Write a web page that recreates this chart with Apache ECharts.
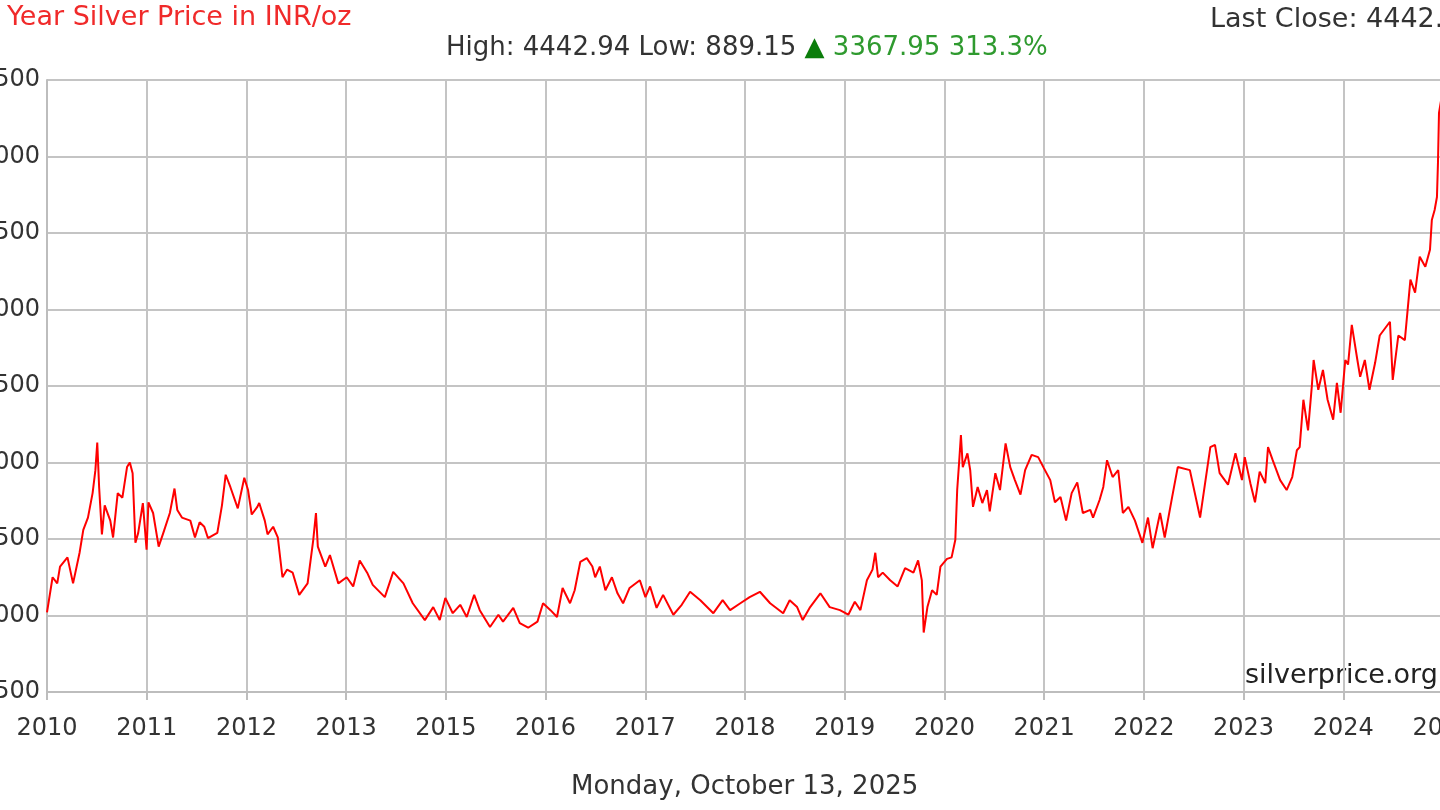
<!DOCTYPE html>
<html>
<head>
<meta charset="utf-8">
<script src="https://cdn.jsdelivr.net/npm/echarts@6/dist/echarts.min.js"></script>
<style>
  html, body { margin: 0; padding: 0; background: #fff; }
  #chart { width: 1440px; height: 810px; }
</style>
</head>
<body>
<div id="chart"></div>
<script>
// decimal year of each reading
const dates = [
  2010.78,2010.84,2010.89,2010.92,2011.00,2011.06,2011.13,2011.17,2011.22,2011.27,2011.30,2011.32,2011.34,2011.37,2011.40,2011.46,2011.49,2011.54,2011.59,2011.64,
  2011.67,2011.70,2011.73,2011.76,2011.81,2011.85,2011.87,2011.92,2011.98,2012.03,2012.10,2012.15,2012.18,2012.23,2012.32,2012.37,2012.42,2012.47,2012.51,2012.61,
  2012.66,2012.70,2012.75,2012.83,2012.90,2012.94,2012.98,2013.04,2013.06,2013.12,2013.15,2013.21,2013.26,2013.31,2013.36,2013.42,2013.49,2013.58,2013.64,2013.67,
  2013.69,2013.77,2013.82,2013.91,2014.00,2014.07,2014.14,2014.22,2014.28,2014.41,2014.50,2014.61,2014.71,2014.84,2014.93,2015.00,2015.06,2015.14,2015.22,2015.29,
  2015.37,2015.43,2015.54,2015.63,2015.68,2015.76,2015.79,2015.86,2015.95,2016.05,2016.11,2016.19,2016.26,2016.32,2016.40,2016.45,2016.51,2016.58,2016.64,2016.67,
  2016.72,2016.78,2016.85,2016.91,2016.97,2017.04,2017.15,2017.21,2017.26,2017.33,2017.40,2017.51,2017.60,2017.69,2017.80,2017.94,2018.04,2018.12,2018.23,2018.33,
  2018.44,2018.55,2018.69,2018.76,2018.84,2018.90,2018.98,2019.09,2019.19,2019.30,2019.39,2019.46,2019.52,2019.59,2019.65,2019.68,2019.71,2019.76,2019.84,2019.92,
  2020.00,2020.09,2020.14,2020.18,2020.20,2020.24,2020.29,2020.34,2020.38,2020.45,2020.50,2020.54,2020.56,2020.58,2020.60,2020.62,2020.67,2020.70,2020.73,2020.78,
  2020.83,2020.88,2020.91,2020.97,2021.02,2021.08,2021.13,2021.18,2021.24,2021.29,2021.36,2021.43,2021.49,2021.56,2021.61,2021.67,2021.73,2021.79,2021.85,2021.91,
  2021.99,2022.02,2022.09,2022.13,2022.17,2022.23,2022.29,2022.34,2022.40,2022.47,2022.55,2022.61,2022.66,2022.74,2022.79,2022.87,2022.93,2023.06,2023.17,2023.28,
  2023.33,2023.38,2023.47,2023.55,2023.62,2023.65,2023.71,2023.76,2023.81,2023.87,2023.90,2023.95,2024.03,2024.10,2024.16,2024.21,2024.24,2024.28,2024.33,2024.37,
  2024.39,2024.44,2024.49,2024.54,2024.60,2024.64,2024.68,2024.73,2024.76,2024.80,2024.86,2024.89,2024.94,2024.99,2025.05,2025.10,2025.21,2025.24,2025.30,2025.37,
  2025.43,2025.48,2025.53,2025.59,2025.64,2025.66,2025.69,2025.715,2025.726,2025.737,2025.78
];
// silver price, INR per oz
const prices = [
  1020,1250,1210,1320,1380,1210,1410,1560,1640,1800,1950,2130,1840,1530,1720,1620,1510,1800,1770,1970,
  2000,1930,1475,1540,1735,1430,1740,1670,1450,1540,1670,1830,1690,1640,1620,1510,1610,1580,1505,1540,
  1720,1920,1840,1700,1900,1820,1660,1710,1735,1620,1530,1580,1510,1250,1300,1280,1135,1210,1490,1670,
  1450,1320,1395,1210,1250,1190,1360,1280,1200,1120,1285,1210,1080,970,1055,970,1115,1015,1070,990,
  1135,1035,925,1005,960,1025,1050,950,920,960,1080,1035,990,1180,1080,1165,1350,1375,1320,1250,
  1320,1165,1250,1145,1080,1180,1230,1120,1190,1050,1135,1005,1070,1155,1100,1015,1100,1035,1080,1120,
  1155,1080,1015,1100,1055,970,1055,1145,1055,1035,1005,1090,1035,1230,1300,1410,1250,1280,1230,1190,
  1310,1280,1360,1230,889,1055,1165,1135,1320,1370,1380,1495,1820,1995,2180,1970,2060,1950,1710,1840,
  1735,1820,1680,1930,1820,2125,1970,1885,1790,1950,2050,2035,1965,1885,1740,1775,1620,1800,1870,1670,
  1690,1640,1755,1840,2015,1905,1950,1670,1710,1620,1475,1640,1440,1670,1510,1775,1970,1950,1640,2100,
  2115,1930,1855,2060,1885,2035,1865,1740,1940,1865,2100,2015,1885,1820,1905,2080,2100,2410,2210,2495,
  2670,2475,2605,2410,2280,2520,2325,2670,2640,2900,2670,2560,2670,2475,2650,2830,2920,2540,2830,2800,
  3195,3110,3345,3280,3390,3585,3650,3735,3960,4285,4442.94
];
// the chart's own x labels (2014 is skipped in the original)
const tickLabels = ['2010','2011','2012','2013','2015','2016','2017','2018','2019','2020','2021','2022','2023','2024','2025'];
const startYear = 2010.78;
const spanYears = 15;

const chart = echarts.init(document.getElementById('chart'));
const font = 'DejaVu Sans, Verdana, sans-serif';
const nTicks = tickLabels.length - 1;
const seriesData = dates.map((d, i) => [(d - startYear) * nTicks / spanYears, prices[i]]);

const option = {
  animation: false,
  grid: { left: 47, top: 80, width: 1396, height: 612, containLabel: false, outerBoundsMode: 'none' },
  xAxis: {
    type: 'value',
    min: 0,
    max: nTicks,
    interval: 1,
    axisLine: { show: true, lineStyle: { color: '#bdbdbd', width: 2 } },
    axisTick: { show: true, length: 8, lineStyle: { color: '#bdbdbd', width: 2 } },
    splitLine: { show: true, lineStyle: { color: '#c4c4c4', width: 2 } },
    axisLabel: {
      margin: 25,
      color: '#333',
      fontFamily: font,
      fontSize: 24,
      hideOverlap: false,
      formatter: v => tickLabels[Math.round(v)] || ''
    }
  },
  yAxis: {
    type: 'value',
    min: 500,
    max: 4500,
    interval: 500,
    axisLine: { show: true, lineStyle: { color: '#bdbdbd', width: 2 } },
    axisTick: { show: false },
    splitLine: { show: true, lineStyle: { color: '#c4c4c4', width: 2 } },
    axisLabel: { margin: 7, color: '#333', fontFamily: font, fontSize: 24, formatter: v => String(v) }
  },
  graphic: [
    { type: 'text', left: -36, top: 4, style: { text: '15 Year Silver Price in INR/oz', fill: '#f02a2a', font: '27px ' + font } },
    { type: 'text', left: 1210, top: 6, style: { text: 'Last Close: 4442.94', fill: '#333', font: '27px ' + font } },
    {
      type: 'text', left: 446, top: 35,
      style: {
        text: '{d|High: 4442.94 Low: 889.15 }{t|▲}{g| 3367.95 313.3%}',
        rich: {
          d: { fill: '#333', font: '26px ' + font },
          t: { fill: '#0b7d0b', font: '26px ' + font },
          g: { fill: '#2f9a2f', font: '26px ' + font }
        }
      }
    },
    { type: 'text', left: 1245, top: 662, style: { text: 'silverprice.org', fill: '#222', font: '27px ' + font } },
    { type: 'text', left: 571, top: 774, style: { text: 'Monday, October 13, 2025', fill: '#333', font: '26px ' + font } }
  ],
  series: [{
    type: 'line',
    data: seriesData,
    showSymbol: false,
    lineStyle: { color: '#ff0000', width: 2 },
    itemStyle: { color: '#ff0000' }
  }]
};

chart.setOption(option);
window.addEventListener('resize', function () {
  chart.resize();
});
</script>
</body>
</html>
